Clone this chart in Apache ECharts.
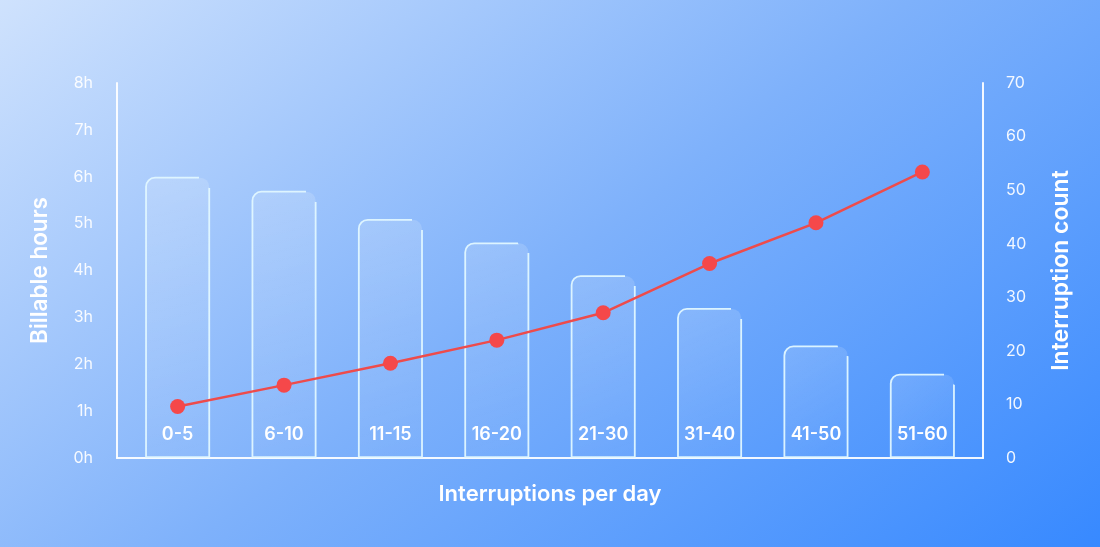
<!DOCTYPE html>
<html>
<head>
<meta charset="utf-8">
<script src="https://cdn.jsdelivr.net/npm/echarts@6/dist/echarts.min.js"></script>
<style>
  html, body { margin: 0; padding: 0; }
  body {
    width: 1100px; height: 547px; overflow: hidden;
    background: linear-gradient(143deg, #cfe2fd 0%, #7eb1fb 50%, #3789ff 100%);
  }
  #chart { width: 1100px; height: 547px; }
</style>
</head>
<body>
<div id="chart"></div>
<script>
// interruptions vs billable hours

const categories = ['0-5', '6-10', '11-15', '16-20', '21-30', '31-40', '41-50', '51-60'];
const billableHours = [6.0, 5.7, 5.1, 4.6, 3.9, 3.2, 2.4, 1.8];
const interruptionCount = [9.6, 13.6, 17.7, 22.0, 27.1, 36.3, 43.9, 53.4];
const hourTicks = [0, 8, 1];   // min, max, step
const countTicks = [0, 70, 10];

const chartBox = document.getElementById('chart');
var myChart = echarts.init(chartBox, null, { renderer: 'canvas' });
var option;

const font = 'Inter, "Noto Sans", sans-serif';
const axisWhite = 'rgba(255,255,255,0.92)';

option = {
    backgroundColor: 'transparent',
    animation: false,
    grid: {
        left: 117,
        right: 117,
        top: 83,
        bottom: 89
    },
    xAxis: {
        type: 'value',
        min: -0.57,
        max: 7.57,
        name: 'Interruptions per day',
        nameLocation: 'middle',
        nameGap: 25,
        nameTextStyle: { color: '#fff', fontSize: 22, fontWeight: 600, fontFamily: font },
        axisLine: { show: true, lineStyle: { color: axisWhite, width: 2 } },
        axisTick: { show: false },
        axisLabel: { show: false },
        splitLine: { show: false }
    },
    yAxis: [
        {
            type: 'value',
            min: hourTicks[0],
            max: hourTicks[1],
            interval: hourTicks[2],
            name: 'Billable hours',
            nameLocation: 'middle',
            nameRotate: 90,
            nameGap: 65,
            nameTextStyle: { color: '#fff', fontSize: 22.5, fontWeight: 600, fontFamily: font },
            axisLine: { show: true, onZero: false, lineStyle: { color: axisWhite, width: 2 } },
            axisTick: { show: false },
            splitLine: { show: false },
            axisLabel: {
                color: axisWhite,
                fontSize: 16,
                fontFamily: font,
                margin: 24,
                formatter: '{value}h'
            }
        },
        {
            type: 'value',
            min: countTicks[0],
            max: countTicks[1],
            interval: countTicks[2],
            name: 'Interruption count',
            nameLocation: 'middle',
            nameRotate: 90,
            nameGap: 67,
            nameTextStyle: { color: '#fff', fontSize: 23, fontWeight: 600, fontFamily: font },
            axisLine: { show: true, onZero: false, lineStyle: { color: axisWhite, width: 2 } },
            axisTick: { show: false },
            splitLine: { show: false },
            axisLabel: {
                color: axisWhite,
                fontSize: 16,
                fontFamily: font,
                margin: 23
            }
        }
    ],
    series: [
        {
            name: 'Billable hours',
            type: 'bar',
            yAxisIndex: 0,
            barWidth: 65,
            data: billableHours.map((v, i) => [i, v]),
            itemStyle: {
                color: {
                    type: 'linear', x: 0, y: 0, x2: 1, y2: 1,
                    colorStops: [
                        { offset: 0, color: 'rgba(255,255,255,0.16)' },
                        { offset: 1, color: 'rgba(255,255,255,0.04)' }
                    ]
                },
                // glass edge with a gap at the top-right corner
                borderColor: {
                    type: 'radial', x: 1, y: 0, r: 0.17,
                    colorStops: [
                        { offset: 0, color: 'rgba(225,247,255,0)' },
                        { offset: 0.98, color: 'rgba(225,247,255,0)' },
                        { offset: 1, color: 'rgba(225,247,255,0.95)' }
                    ]
                },
                borderWidth: 1.8,
                borderRadius: [9, 9, 0, 0]
            },
            label: {
                show: true,
                position: 'insideBottom',
                distance: 14,
                color: '#fff',
                fontSize: 18,
                fontWeight: 600,
                fontFamily: font,
                formatter: p => categories[p.dataIndex]
            },
            z: 2
        },
        {
            name: 'Interruption count',
            type: 'line',
            yAxisIndex: 1,
            data: interruptionCount.map((v, i) => [i, v]),
            symbol: 'circle',
            symbolSize: 15,
            lineStyle: { color: '#ee4b4b', width: 2.5 },
            itemStyle: { color: '#f5484a' },
            z: 5
        }
    ]
};

option && myChart.setOption(option);
</script>
</body>
</html>
